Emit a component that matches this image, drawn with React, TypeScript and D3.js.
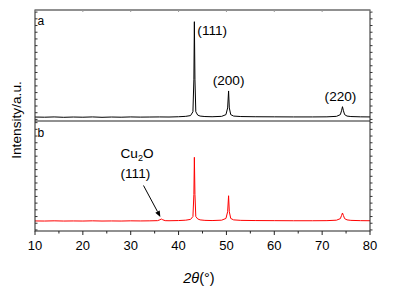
import React from "react";
import * as d3 from "d3";

// 2θ range and tick values
const xDomain: [number, number] = [10, 80];
const xMajorTicks = [10, 20, 30, 40, 50, 60, 70, 80];
const xMinorTicks = [15, 25, 35, 45, 55, 65, 75];

// Sample a: pure Cu pattern (2θ, intensity a.u.)
const patternA: [number, number][] = [
  [10, 0.5], [12, 0.3], [14, 0.6], [16, 0.2], [18, 0.5], [20, 0.3], [22, 0.6],
  [24, 0.2], [26, 0.5], [28, 0.3], [30, 0.6], [32, 0.4], [34, 0.5], [36, 0.6],
  [38, 0.5], [40, 0.8], [41.5, 1.2], [42.5, 2], [43.0, 6], [43.2, 40], [43.3, 100],
  [43.42, 40], [43.6, 6], [44, 2.5], [44.5, 1.5], [45.5, 1], [47, 0.8], [49, 1.2],
  [49.9, 3], [50.25, 10], [50.45, 27.7], [50.6, 10], [50.9, 3], [51.5, 1.5],
  [53, 1], [56, 0.8], [60, 0.7], [64, 0.6], [68, 0.6], [71, 0.7], [73, 1.2],
  [73.8, 3], [74.05, 7], [74.25, 11.3], [74.45, 7], [74.7, 3], [75.2, 1.5],
  [76, 1], [78, 0.7], [80, 0.6],
];

// Sample b: Cu with trace Cu2O
const patternB: [number, number][] = [
  [10, 0.4], [12, 0.3], [14, 0.5], [16, 0.3], [18, 0.4], [20, 0.3], [22, 0.5],
  [24, 0.3], [26, 0.4], [28, 0.3], [30, 0.5], [32, 0.4], [34, 0.5], [35.6, 0.7],
  [36.1, 1.6], [36.4, 2.4], [36.7, 1.6], [37.2, 0.7], [38, 0.6], [40, 0.8],
  [41.5, 1.2], [42.5, 2], [43.0, 5], [43.2, 28], [43.3, 66.8], [43.42, 28],
  [43.6, 5], [44, 2.5], [44.5, 1.5], [45.5, 1], [47, 0.8], [49, 1.2], [49.9, 3],
  [50.25, 10], [50.45, 26.7], [50.6, 10], [50.9, 3], [51.5, 1.5], [53, 1],
  [56, 0.8], [60, 0.7], [64, 0.6], [68, 0.6], [71, 0.7], [73, 1.2], [73.8, 2.8],
  [74.05, 6], [74.25, 8.7], [74.45, 6], [74.7, 2.8], [75.2, 1.5], [76, 1],
  [78, 0.7], [80, 0.6],
];

// Peak annotations for sample a
const peakLabelsA = [
  { label: "(111)", x: 43.3, y: 100 },
  { label: "(200)", x: 50.45, y: 27.7 },
  { label: "(220)", x: 74.25, y: 11.3 },
];
const cu2oPeak = { x: 36.4, y: 2.4 };

const yTopDomain: [number, number] = [-3.65, 112.2];
const yBotDomain: [number, number] = [-10.1, 104.7];

const FONT = "'Liberation Sans', Arial, sans-serif";

export default function App() {
  const W = 393, H = 286;
  const left = 35, right = 370, top = 10, mid = 121, bottom = 231;

  const x = d3.scaleLinear().domain(xDomain).range([left, right]);
  const yTop = d3.scaleLinear().domain(yTopDomain).range([mid, top]);
  const yBot = d3.scaleLinear().domain(yBotDomain).range([bottom, mid]);

  const lineTop = d3.line<[number, number]>().x(d => x(d[0])).y(d => yTop(d[1]));
  const lineBot = d3.line<[number, number]>().x(d => x(d[0])).y(d => yBot(d[1]));

  const yTicksTop = d3.range(-2, 112, 7).map(v => yTop(v));
  const yTicksBot = d3.range(-9, 104, 7).map(v => yBot(v));
  const yTickPos = [...yTicksTop, ...yTicksBot];

  const arrowEnd = { x: x(cu2oPeak.x) - 1, y: yBot(cu2oPeak.y + 2.2) };
  const arrowStart = { x: 143.5, y: 185.5 };
  const ang = Math.atan2(arrowEnd.y - arrowStart.y, arrowEnd.x - arrowStart.x);
  const ah = 6, aw = 2.5;
  const bx = arrowEnd.x - ah * Math.cos(ang), by = arrowEnd.y - ah * Math.sin(ang);
  const head = `${arrowEnd.x},${arrowEnd.y} ${bx - aw * Math.sin(ang)},${by + aw * Math.cos(ang)} ${bx + aw * Math.sin(ang)},${by - aw * Math.cos(ang)}`;

  return (
    <div style={{ position: "fixed", left: 0, top: 0, width: W, height: H, background: "#fff" }}>
      <svg width={W} height={H} style={{ display: "block", fontFamily: FONT }}>
        <rect width={W} height={H} fill="#fff" />

        {/* data */}
        <path d={lineTop(patternA) || ""} fill="none" stroke="#000" strokeWidth={1} />
        <path d={lineBot(patternB) || ""} fill="none" stroke="#ff0000" strokeWidth={1} />

        {/* frame */}
        <rect x={left} y={top} width={right - left} height={bottom - top} fill="none" stroke="#222" strokeWidth={1} />
        <line x1={left} x2={right} y1={mid} y2={mid} stroke="#222" strokeWidth={1} />

        {/* y ticks: left inward, right outward */}
        {yTickPos.map((p, i) => (
          <g key={"yt" + i}>
            <line x1={left} x2={left + 2.5} y1={p} y2={p} stroke="#333" strokeWidth={1} />
            <line x1={right} x2={right + 2.5} y1={p} y2={p} stroke="#333" strokeWidth={1} />
          </g>
        ))}

        {/* x ticks */}
        {xMajorTicks.map(t => (
          <g key={"xm" + t}>
            <line x1={x(t)} x2={x(t)} y1={bottom} y2={bottom + 4} stroke="#222" strokeWidth={1} />
            <line x1={x(t)} x2={x(t)} y1={top} y2={top + 2} stroke="#999" strokeWidth={1} />
            <text x={x(t)} y={249.5} textAnchor="middle" fontSize={13} fill="#000">{t}</text>
          </g>
        ))}
        {xMinorTicks.map(t => (
          <line key={"xn" + t} x1={x(t)} x2={x(t)} y1={bottom} y2={bottom + 2.5} stroke="#222" strokeWidth={1} />
        ))}

        {/* axis labels */}
        <text x={199} y={282.5} textAnchor="middle" fontSize={14.5} fill="#000">
          <tspan fontStyle="italic">2θ</tspan>(°)
        </text>
        <text transform="translate(20.5,120) rotate(-90)" textAnchor="middle" fontSize={13.7} fill="#000">
          Intensity/a.u.
        </text>

        {/* panel letters */}
        <text x={37.5} y={24.5} fontSize={12} fill="#000">a</text>
        <text x={37.5} y={137} fontSize={12} fill="#000">b</text>

        {/* peak labels */}
        <text x={x(peakLabelsA[0].x) + 3} y={yTop(peakLabelsA[0].y) + 13.3} fontSize={13.6} fill="#000">
          {peakLabelsA[0].label}
        </text>
        <text x={x(peakLabelsA[1].x)} y={yTop(peakLabelsA[1].y) - 6} textAnchor="middle" fontSize={13.6} fill="#000">
          {peakLabelsA[1].label}
        </text>
        <text x={x(peakLabelsA[2].x) - 2} y={yTop(peakLabelsA[2].y) - 6} textAnchor="middle" fontSize={13.6} fill="#000">
          {peakLabelsA[2].label}
        </text>

        {/* Cu2O annotation */}
        <text x={120.5} y={157.5} fontSize={13.6} fill="#000">
          Cu<tspan fontSize={9} dy={3}>2</tspan><tspan dy={-3}>O</tspan>
        </text>
        <text x={120.5} y={177.5} fontSize={13.6} fill="#000">(111)</text>
        <line x1={arrowStart.x} y1={arrowStart.y} x2={bx} y2={by} stroke="#000" strokeWidth={1} />
        <polygon points={head} fill="#000" />
      </svg>
    </div>
  );
}
